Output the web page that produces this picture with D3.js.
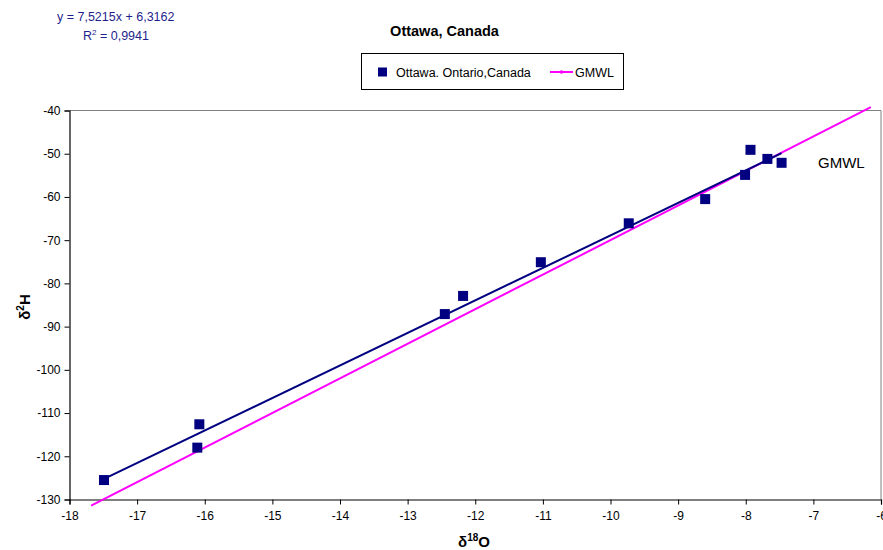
<!DOCTYPE html>
<html>
<head>
<meta charset="utf-8">
<script src="https://cdn.jsdelivr.net/npm/d3@7"></script>
<style>
  html, body { margin: 0; padding: 0; background: #fff; }
  svg { display: block; font-family: "Liberation Sans", Arial, sans-serif; }
</style>
</head>
<body>
<svg id="chart" width="883" height="550"></svg>
<script>
// ---- data ----
const seriesName = "Ottawa. Ontario,Canada";
const d18O = [-17.49, -16.08, -16.11, -12.45, -12.18, -11.03, -9.73, -8.60, -8.01, -7.93, -7.68, -7.47];
const d2H  = [-125.5, -112.6, -118.0, -87.1, -82.9, -75.1, -66.1, -60.5, -54.9, -49.1, -51.2, -52.1];
const gmwlName = "GMWL";
const gmwlX = [-17.68, -6.15];
const gmwlY = [-131.4, -39.2];
const trendSlope = 7.5215;
const trendIntercept = 6.3162;
const equationText = "y = 7,5215x + 6,3162";
const r2Text = "0,9941";
const xTicks = [-18, -17, -16, -15, -14, -13, -12, -11, -10, -9, -8, -7, -6];
const yTicks = [-130, -120, -110, -100, -90, -80, -70, -60, -50, -40];
const titleText = "Ottawa, Canada";

// ---- layout ----
const svg = d3.select("#chart");
const pL = 69.5, pR = 881, pT = 110.5, pB = 499.5;
const navy = "#000080", magenta = "#FF00FF";

const x = d3.scaleLinear().domain([-18, -6]).range([pL, pR]);
const y = d3.scaleLinear().domain([-130, -40]).range([pB, pT]);

// plot area border (gray top/right)
svg.append("path")
  .attr("d", `M${pL},${pT}H${pR}V${pB}`)
  .attr("fill", "none").attr("stroke", "#808080").attr("stroke-width", 1);

// axes
const xAxis = svg.append("g").attr("transform", `translate(0,${pB})`)
  .call(d3.axisBottom(x).tickValues(xTicks).tickSize(5).tickPadding(7).tickFormat(d3.format("d")));
const yAxis = svg.append("g").attr("transform", `translate(${pL},0)`)
  .call(d3.axisLeft(y).tickValues(yTicks).tickSize(5).tickPadding(4).tickFormat(d3.format("d")));
[xAxis, yAxis].forEach(g => {
  g.select(".domain").attr("stroke", "#000").attr("stroke-width", 1.2);
  g.selectAll(".tick line").attr("stroke", "#000");
  g.selectAll(".tick text").attr("fill", "#000")
    .style("font-size", "12px").style("font-family", "'Liberation Sans', Arial, sans-serif");
});
xAxis.selectAll(".tick text").text(d => String(d));
yAxis.selectAll(".tick text").text(d => String(d));

// GMWL line
const line = d3.line().x(d => x(d[0])).y(d => y(d[1]));
svg.append("path")
  .datum(d3.zip(gmwlX, gmwlY))
  .attr("d", line)
  .attr("fill", "none").attr("stroke", magenta).attr("stroke-width", 2);

// trend line
const xmin = d3.min(d18O), xmax = d3.max(d18O);
svg.append("path")
  .datum([[xmin, trendSlope * xmin + trendIntercept], [xmax, trendSlope * xmax + trendIntercept]])
  .attr("d", line)
  .attr("fill", "none").attr("stroke", navy).attr("stroke-width", 2);

// markers
const ms = 10;
svg.append("g").selectAll("rect")
  .data(d3.zip(d18O, d2H))
  .join("rect")
  .attr("x", d => x(d[0]) - ms / 2)
  .attr("y", d => y(d[1]) - ms / 2)
  .attr("width", ms).attr("height", ms)
  .attr("fill", navy);

// GMWL label
svg.append("text").attr("x", 818).attr("y", 167.5)
  .style("font-size", "15px").attr("fill", "#000").text(gmwlName);

// title
svg.append("text").attr("x", 444.5).attr("y", 36)
  .attr("text-anchor", "middle").style("font-size", "14.5px").style("font-weight", "bold")
  .text(titleText);

// equation
const eq = svg.append("g").attr("fill", "#1F1F8C").style("font-size", "12.5px");
eq.append("text").attr("x", 57).attr("y", 21).text(equationText);
const r2 = eq.append("text").attr("x", 83).attr("y", 39.5);
r2.append("tspan").text("R");
r2.append("tspan").attr("dy", -5).style("font-size", "8px").text("2");
r2.append("tspan").attr("dy", 5).text(" = " + r2Text);

// legend
const lg = svg.append("g");
lg.append("rect").attr("x", 361.5).attr("y", 53.5).attr("width", 262).attr("height", 36)
  .attr("fill", "#fff").attr("stroke", "#000").attr("stroke-width", 1);
lg.append("rect").attr("x", 378).attr("y", 67.5).attr("width", 9).attr("height", 9).attr("fill", navy);
lg.append("text").attr("x", 396).attr("y", 76.5).style("font-size", "12.5px").text(seriesName);
lg.append("line").attr("x1", 550).attr("x2", 573).attr("y1", 72).attr("y2", 72)
  .attr("stroke", magenta).attr("stroke-width", 2);
lg.append("circle").attr("cx", 561.5).attr("cy", 72).attr("r", 1.8).attr("fill", magenta);
lg.append("text").attr("x", 575).attr("y", 76.5).style("font-size", "12.5px").text(gmwlName);

// axis titles
const yt = svg.append("text").attr("transform", "translate(30,307) rotate(-90)")
  .attr("text-anchor", "middle").style("font-size", "15px").style("font-weight", "bold");
yt.append("tspan").text("δ");
yt.append("tspan").attr("dy", -6).style("font-size", "10px").text("2");
yt.append("tspan").attr("dy", 6).text("H");

const xt = svg.append("text").attr("x", 474).attr("y", 547)
  .attr("text-anchor", "middle").style("font-size", "15px").style("font-weight", "bold");
xt.append("tspan").text("δ");
xt.append("tspan").attr("dy", -6).style("font-size", "10px").text("18");
xt.append("tspan").attr("dy", 6).text("O");
</script>
</body>
</html>
